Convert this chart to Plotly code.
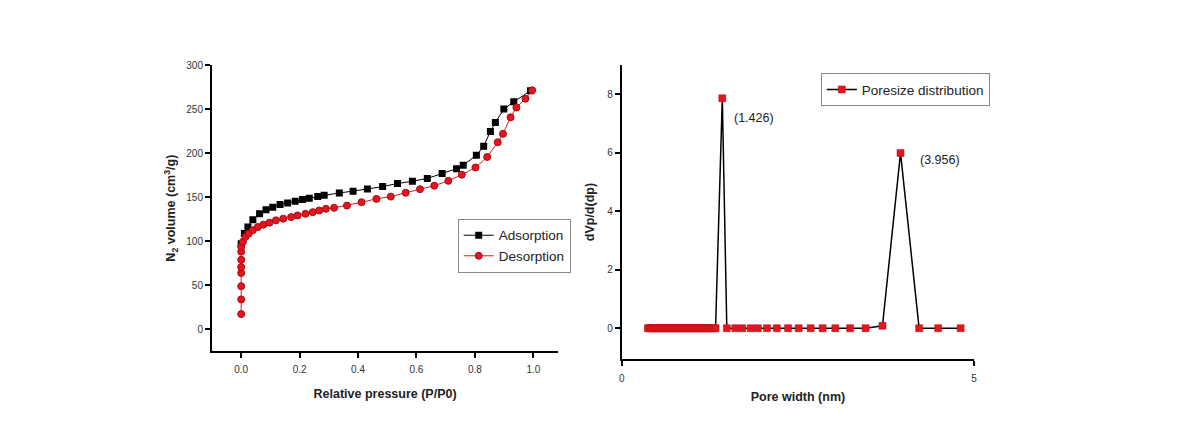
import plotly.graph_objects as go

# ---- Left panel: N2 isotherm ----
ads_x = [0.0, 0.011, 0.023, 0.040, 0.063, 0.085, 0.108, 0.133, 0.159, 0.185, 0.210, 0.233,
         0.262, 0.284, 0.336, 0.383, 0.432, 0.484, 0.535, 0.586, 0.637, 0.688, 0.737, 0.760,
         0.805, 0.830, 0.853, 0.870, 0.899, 0.933, 0.990]
ads_y = [97, 108.6, 116, 124.3, 131, 135.6, 138.5, 141.6, 143.4, 145.3, 147.2, 148.7,
         150.6, 152, 154.7, 156.6, 159.2, 162, 165.5, 168, 171.3, 176.8, 182.4, 186.3,
         197.5, 208, 224.7, 234.8, 250.2, 258.4, 271]

des_x = [0.0, 0.0, 0.0, 0.0, 0.0, 0.0, 0.0, 0.0, 0.006, 0.015, 0.026, 0.040, 0.057, 0.076,
         0.097, 0.119, 0.144, 0.171, 0.193, 0.220, 0.245, 0.267, 0.290, 0.318, 0.362, 0.412,
         0.463, 0.512, 0.563, 0.612, 0.661, 0.709, 0.755, 0.802, 0.842, 0.878, 0.896, 0.922,
         0.942, 0.973, 0.996]
des_y = [17, 33.7, 48.7, 63.7, 70.4, 78.7, 88, 93.6, 99.3, 104.9, 108.6, 112.4, 116, 118.7,
         121, 123.6, 125.5, 127.3, 129.2, 131, 132.9, 134.8, 136.7, 137.8, 140.4, 144.2,
         148, 150.6, 155, 159, 163, 168.5, 175.5, 183.7, 195.6, 212.4, 222, 240.8,
         252, 262, 271.5]

left_xticks = [0.0, 0.2, 0.4, 0.6, 0.8, 1.0]
left_xticktext = ["0.0", "0.2", "0.4", "0.6", "0.8", "1.0"]
left_yticks = [0, 50, 100, 150, 200, 250, 300]

# ---- Right panel: pore size distribution ----
pore_w = [0.37, 0.39, 0.41, 0.43, 0.45, 0.47, 0.49, 0.51, 0.53, 0.55, 0.57, 0.59, 0.61,
          0.63, 0.65, 0.67, 0.69, 0.71, 0.73, 0.75, 0.77, 0.79, 0.81, 0.83, 0.85, 0.87,
          0.89, 0.91, 0.93, 0.95, 0.97, 0.99, 1.01, 1.03, 1.05, 1.07, 1.09, 1.11, 1.13,
          1.15, 1.17, 1.19, 1.21, 1.23, 1.25, 1.27, 1.29, 1.31, 1.33,
          1.426, 1.49, 1.61, 1.71, 1.83, 1.93, 2.06, 2.20, 2.36, 2.51, 2.68, 2.85, 3.03,
          3.24, 3.46, 3.70, 3.956, 4.22, 4.49, 4.81]
pore_v = [0, 0, 0, 0, 0, 0, 0, 0, 0, 0, 0, 0, 0,
          0, 0, 0, 0, 0, 0, 0, 0, 0, 0, 0, 0, 0,
          0, 0, 0, 0, 0, 0, 0, 0, 0, 0, 0, 0, 0,
          0, 0, 0, 0, 0, 0, 0, 0, 0, 0,
          7.87, 0, 0, 0, 0, 0, 0, 0, 0, 0, 0, 0, 0,
          0, 0, 0.08, 6.0, 0, 0, 0]
right_xticks = [0, 5]
right_yticks = [0, 2, 4, 6, 8]
peak_labels = ["(1.426)", "(3.956)"]
peak_x = [1.426, 3.956]
peak_y = [7.87, 6.0]

FONT = "Liberation Sans, Arial, sans-serif"
RED = "#e8131d"

# page body has a margin; figure is sized to fit inside it
W, H, OFFX, OFFY = 1174, 410, 8, 10


def px_x(p):
    return (p - OFFX) / W


def px_y(p):
    return 1 - (p - OFFY) / H


fig = go.Figure()
fig.add_trace(go.Scatter(
    x=ads_x, y=ads_y, mode="lines+markers", name="Adsorption",
    line=dict(color="black", width=1),
    marker=dict(symbol="square", size=7, color="black"),
    xaxis="x", yaxis="y", legend="legend"))
fig.add_trace(go.Scatter(
    x=des_x, y=des_y, mode="lines+markers", name="Desorption",
    line=dict(color=RED, width=1),
    marker=dict(symbol="circle", size=7, color=RED, line=dict(color="#a50d14", width=1)),
    xaxis="x", yaxis="y", legend="legend"))
fig.add_trace(go.Scatter(
    x=pore_w, y=pore_v, mode="lines+markers", name="Poresize distribution",
    line=dict(color="black", width=1.5),
    marker=dict(symbol="square", size=7, color=RED, line=dict(color="#b0101a", width=0.5)),
    xaxis="x2", yaxis="y2", legend="legend2"))

label_xshift = [10, 17]
label_yshift = [-20, -7]
for lx, ly, lt, xs, ys in zip(peak_x, peak_y, peak_labels, label_xshift, label_yshift):
    fig.add_annotation(x=lx, y=ly, xref="x2", yref="y2", text=lt, showarrow=False,
                       xanchor="left", yanchor="middle", xshift=xs, yshift=ys,
                       font=dict(family=FONT, size=12.5, color="#222"))

axis_common = dict(showline=True, linecolor="black", linewidth=2, ticks="outside",
                   ticklen=5, tickwidth=1.5, tickcolor="black", showgrid=False,
                   zeroline=False, tickfont=dict(family=FONT, size=10, color="#333"))

fig.update_layout(
    width=W, height=H, margin=dict(l=0, r=0, t=0, b=0),
    paper_bgcolor="white", plot_bgcolor="white", showlegend=True,
    xaxis=dict(domain=[px_x(210), px_x(558)], range=[-0.1, 1.085], tickvals=left_xticks,
               ticktext=left_xticktext, anchor="y", ticklabelstandoff=3,
               title=dict(text="<b>Relative pressure (P/P0)</b>", standoff=15,
                          font=dict(family=FONT, size=12.5, color="#222")),
               **axis_common),
    yaxis=dict(domain=[px_y(352), px_y(62)], range=[-25, 300], tickvals=left_yticks, anchor="x",
               title=dict(text="<b>N<sub>2</sub> volume (cm<sup>3</sup>/g)</b>", standoff=8,
                          font=dict(family=FONT, size=12.5, color="#222")),
               **axis_common),
    xaxis2=dict(domain=[px_x(622), px_x(976)], range=[0, 5], tickvals=right_xticks, anchor="y2",
                ticklabelstandoff=4,
                title=dict(text="<b>Pore width (nm)</b>", standoff=9,
                           font=dict(family=FONT, size=12.5, color="#222")),
                **axis_common),
    yaxis2=dict(domain=[px_y(360), px_y(62)], range=[-1.05, 9.0], tickvals=right_yticks, anchor="x2",
                title=dict(text="<b>dVp/d(dp)</b>", standoff=10,
                           font=dict(family=FONT, size=12.5, color="#222")),
                **axis_common),
    legend=dict(x=px_x(457), y=px_y(218), xanchor="left", yanchor="top",
                bgcolor="white", bordercolor="#888", borderwidth=1,
                font=dict(family=FONT, size=13.5, color="#222"),
                itemwidth=30, tracegroupgap=0),
    legend2=dict(x=px_x(822), y=px_y(70), xanchor="left", yanchor="top",
                 bgcolor="white", bordercolor="#888", borderwidth=1,
                 font=dict(family=FONT, size=13.5, color="#222"),
                 itemwidth=30),
)

fig.write_html("out.html")
